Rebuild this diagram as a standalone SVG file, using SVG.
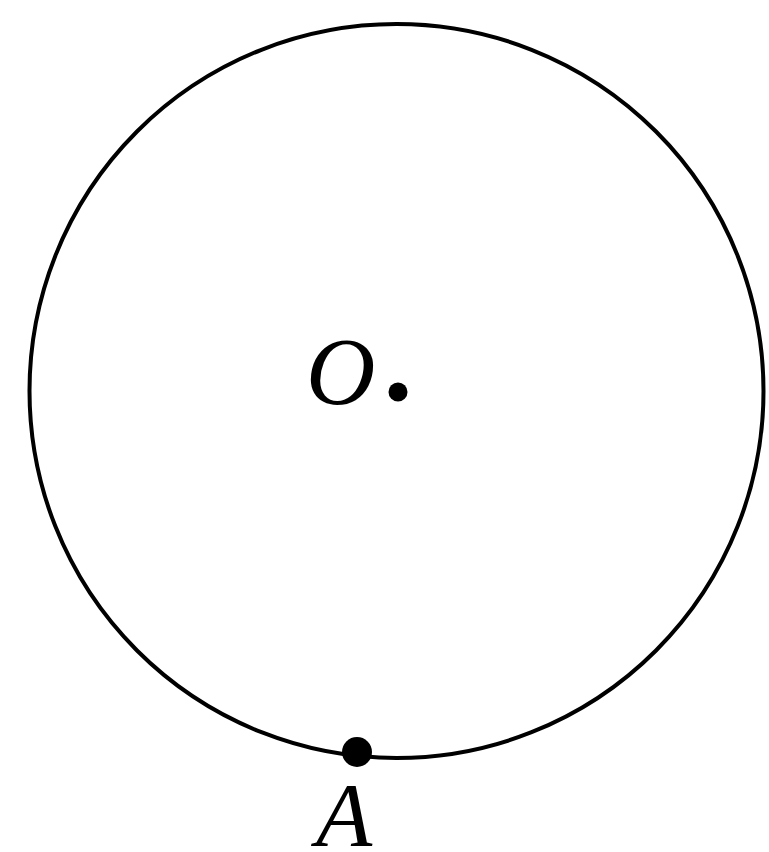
<svg xmlns="http://www.w3.org/2000/svg" width="769" height="852" viewBox="0 0 769 852">
<style>
.lbl{font-family:"Liberation Serif","Times New Roman","DejaVu Serif",serif;font-style:italic;fill:#000}
</style>
<rect width="769" height="852" fill="#fff"/>
<g id="circle"><circle cx="396.5" cy="391" r="367" fill="none" stroke="#000" stroke-width="4"/></g>
<g id="O"><circle cx="398" cy="392" r="9.5" fill="#000"/><text class="lbl" x="306" y="404" font-size="96">O</text></g>
<g id="A"><circle cx="357" cy="752" r="15" fill="#000"/><text class="lbl" x="316" y="846" font-size="92">A</text></g>
</svg>
